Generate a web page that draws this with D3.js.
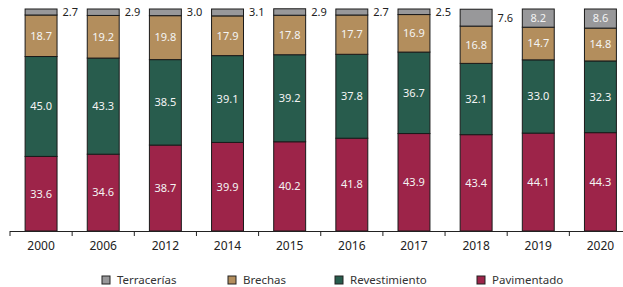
<!DOCTYPE html>
<html>
<head>
<meta charset="utf-8">
<script src="https://cdn.jsdelivr.net/npm/d3@7"></script>
<style>
  body { margin: 0; background: #fff; }
  text { font-family: "Noto Sans", "Open Sans", sans-serif; }
</style>
</head>
<body>
<svg id="chart" width="623" height="287"></svg>
<script>
"use strict";

const years = ["2000", "2006", "2012", "2014", "2015", "2016", "2017", "2018", "2019", "2020"];
const pavimentado = [33.6, 34.6, 38.7, 39.9, 40.2, 41.8, 43.9, 43.4, 44.1, 44.3];
const revestimiento = [45.0, 43.3, 38.5, 39.1, 39.2, 37.8, 36.7, 32.1, 33.0, 32.3];
const brechas = [18.7, 19.2, 19.8, 17.9, 17.8, 17.7, 16.9, 16.8, 14.7, 14.8];
const terracerias = [2.7, 2.9, 3.0, 3.1, 2.9, 2.7, 2.5, 7.6, 8.2, 8.6];

const seriesNames = ["Pavimentado", "Revestimiento", "Brechas", "Terracerías"];
const seriesValues = [pavimentado, revestimiento, brechas, terracerias];
const colors = ["#9d2449", "#285c4d", "#b38e5d", "#98989a"];

const axisY = 231;
const topY = 9;

// rows for d3.stack
const rows = years.map((y, i) => {
    let r = {year: y};
    seriesNames.forEach((s, k) => { r[s] = seriesValues[k][i]; });
    return r;
});

const stacked = d3.stack().keys(seriesNames)(rows);

const xScale = d3.scaleBand()
    .domain(years)
    .range([10, 631.5])
    .paddingInner(0.47)
    .paddingOuter(0.235);

const yScale = d3.scaleLinear()
    .domain([0, 100])
    .range([axisY, topY]);

const colorScale = d3.scaleOrdinal().domain(seriesNames).range(colors);

const svg = d3.select("svg#chart");

const layers = svg.selectAll("g.layer")
    .data(stacked)
    .join("g")
    .attr("class", "layer")
    .attr("fill", d => colorScale(d.key));

layers.selectAll("rect")
    .data(d => d)
    .join("rect")
    .attr("x", d => xScale(d.data.year) + 0.5)
    .attr("y", d => yScale(d[1]))
    .attr("width", xScale.bandwidth() - 1)
    .attr("height", d => yScale(d[0]) - yScale(d[1]))
    .style("stroke", "#1a1a1a")
    .style("stroke-width", "1px");

// value labels (small top values go outside, to the right)
layers.each(function(layer) {
    const g = d3.select(this);
    const isTop = layer.key === "Terracerías";
    const outside = d => isTop && (d[1] - d[0]) < 8;
    g.selectAll("text")
        .data(layer)
        .join("text")
        .attr("x", d => outside(d)
            ? xScale(d.data.year) + xScale.bandwidth() + 5
            : xScale(d.data.year) + xScale.bandwidth() / 2)
        .attr("y", d => {
            let mid = yScale((d[0] + d[1]) / 2);
            if (isTop && (d[1] - d[0]) < 4) mid = yScale(d[1]) + 3;
            return mid;
        })
        .attr("dy", "0.35em")
        .attr("text-anchor", d => outside(d) ? "start" : "middle")
        .attr("font-size", "11px")
        .attr("fill", d => outside(d) ? "#222" : "#f4f4f4")
        .text(d => (d[1] - d[0]).toFixed(1));
});

// x axis line and boundary ticks
const step = xScale.step();
const boundaries = years.map(y => xScale(y) + xScale.bandwidth() / 2 - step / 2);

svg.append("line")
    .attr("x1", boundaries[0])
    .attr("x2", 623)
    .attr("y1", axisY + 0.5)
    .attr("y2", axisY + 0.5)
    .style("stroke", "#222")
    .style("stroke-width", "1.2px");

svg.selectAll("line.tick")
    .data(boundaries)
    .join("line")
    .attr("class", "tick")
    .attr("x1", d => d)
    .attr("x2", d => d)
    .attr("y1", axisY)
    .attr("y2", axisY + 5)
    .style("stroke", "#222")
    .style("stroke-width", "1px");

svg.selectAll("text.year")
    .data(years)
    .join("text")
    .attr("class", "year")
    .attr("x", d => xScale(d) + xScale.bandwidth() / 2)
    .attr("y", 246)
    .attr("dy", "0.35em")
    .attr("text-anchor", "middle")
    .attr("font-size", "12px")
    .attr("fill", "#222")
    .text(d => d);

// legend
const legendOrder = ["Terracerías", "Brechas", "Revestimiento", "Pavimentado"];
const legendX = [102, 228, 335, 477];

const legend = svg.selectAll("g.legend")
    .data(legendOrder)
    .join("g")
    .attr("class", "legend")
    .attr("transform", (d, i) => `translate(${legendX[i]},280)`);

legend.append("rect")
    .attr("x", 0)
    .attr("y", -4)
    .attr("width", 8)
    .attr("height", 8)
    .attr("fill", d => colorScale(d))
    .style("stroke", "#222")
    .style("stroke-width", "1px");

legend.append("text")
    .attr("x", 15)
    .attr("y", 0)
    .attr("dy", "0.35em")
    .attr("font-size", "11.5px")
    .attr("fill", "#333")
    .text(d => d);
</script>
</body>
</html>
